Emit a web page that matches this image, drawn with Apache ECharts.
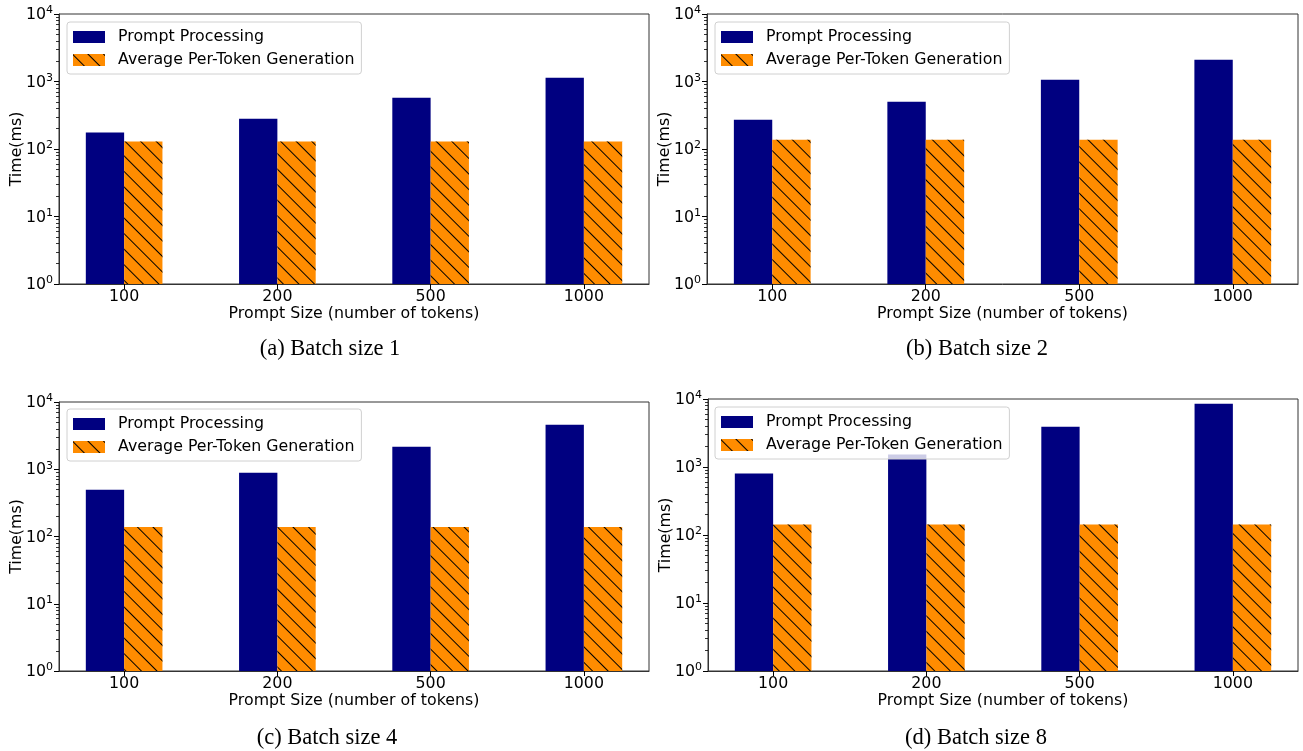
<!DOCTYPE html>
<html>
<head>
<meta charset="utf-8">
<script src="https://cdn.jsdelivr.net/npm/echarts@6/dist/echarts.min.js"></script>
<style>html,body{margin:0;padding:0;background:#fff;}#c{width:1303px;height:751px;}</style>
</head>
<body>
<div id="c"></div>
<script>
// ---- data ----
const categories = ['100', '200', '500', '1000'];
const seriesNames = ['Prompt Processing', 'Average Per-Token Generation'];
const captions = ['(a) Batch size 1', '(b) Batch size 2', '(c) Batch size 4', '(d) Batch size 8'];
const promptB1 = [176, 281, 575, 1138];
const genB1 = [129, 129, 129, 129];
const promptB2 = [271, 502, 1064, 2105];
const genB2 = [137, 137, 137, 137];
const promptB4 = [494, 884, 2154, 4580];
const genB4 = [139, 139, 139, 139];
const promptB8 = [800, 1521, 3920, 8530];
const genB8 = [143, 143, 143, 143];
const yTickValues = [1, 10, 100, 1000, 10000];
const yMinorTicks = [2,3,4,5,6,7,8,9,20,30,40,50,60,70,80,90,200,300,400,500,600,700,800,900,2000,3000,4000,5000,6000,7000,8000,9000];
const xLabel = 'Prompt Size (number of tokens)';
const yLabel = 'Time(ms)';

// ---- layout / style ----
const panels = [
  {left: 59, top: 14, width: 590, height: 270, legend: [67, 22], cap: [330, 338], prompt: promptB1, gen: genB1},
  {left: 707, top: 14, width: 591, height: 270, legend: [715, 22], cap: [977, 338], prompt: promptB2, gen: genB2},
  {left: 59, top: 402, width: 590, height: 269, legend: [67, 409], cap: [327, 727], prompt: promptB4, gen: genB4},
  {left: 708, top: 399, width: 590, height: 272, legend: [715, 407], cap: [976, 727], prompt: promptB8, gen: genB8}
];
const XMIN = -0.425, XMAX = 3.425, BARW = 0.25;
const FONT = 'DejaVu Sans';
const FS = 15.8;
const NAVY = '#000080', ORANGE = '#FF8C00', SPINE = '#333';
const hatch = {symbol: 'rect', symbolSize: 1, dashArrayX: [1, 0], dashArrayY: [0.9, 9.7], rotation: Math.PI / 4, color: '#000'};

const grid = [], xAxis = [], yAxis = [], series = [], legend = [], title = [];
panels.forEach((p, i) => {
  grid.push({left: p.left, top: p.top, width: p.width, height: p.height, show: true, borderColor: SPINE, borderWidth: 1, backgroundColor: 'transparent', containLabel: false});
  xAxis.push({
    type: 'value', gridIndex: i, min: XMIN, max: XMAX,
    name: xLabel, nameLocation: 'middle', nameGap: 22, nameMoveOverlap: false,
    nameTextStyle: {fontFamily: FONT, fontSize: FS, color: '#000'},
    axisLine: {show: true, onZero: false, lineStyle: {color: SPINE, width: 1}},
    axisTick: {show: true, inside: false, length: 5, customValues: [0, 1, 2, 3], lineStyle: {color: '#000'}},
    axisLabel: {show: true, margin: 5, customValues: [0, 1, 2, 3], formatter: v => categories[Math.round(v)], fontFamily: FONT, fontSize: FS, color: '#000'},
    splitLine: {show: false}
  });
  yAxis.push({
    type: 'log', logBase: 10, gridIndex: i, min: 1, max: 10000, position: 'left',
    name: yLabel, nameLocation: 'middle', nameGap: 34, nameMoveOverlap: false,
    nameTextStyle: {fontFamily: FONT, fontSize: FS, color: '#000'},
    axisLine: {show: true, onZero: false, lineStyle: {color: SPINE, width: 1}},
    axisTick: {show: true, length: 5, customValues: yTickValues, lineStyle: {color: '#000'}},
    axisLabel: {
      show: true, margin: 6, customValues: yTickValues,
      formatter: v => '{b|10}{s|' + Math.round(Math.log10(v)) + '}',
      rich: {
        b: {fontFamily: FONT, fontSize: FS, color: '#000', lineHeight: 18, verticalAlign: 'bottom'},
        s: {fontFamily: FONT, fontSize: 11, color: '#000', lineHeight: 11, verticalAlign: 'top'}
      }
    },
    splitLine: {show: false}
  });
  yAxis.push({
    type: 'log', logBase: 10, gridIndex: i, min: 1, max: 10000, position: 'left',
    axisLine: {show: false, onZero: false},
    axisTick: {show: true, length: 3, customValues: yMinorTicks, lineStyle: {color: '#000', width: 0.8}},
    axisLabel: {show: false},
    splitLine: {show: false}
  });
  const bw = BARW * p.width / (XMAX - XMIN);
  series.push({
    name: seriesNames[0], type: 'bar', xAxisIndex: i, yAxisIndex: 2 * i,
    data: p.prompt.map((v, k) => [k, v]), barWidth: bw, barGap: '0%',
    itemStyle: {color: NAVY}, emphasis: {disabled: true}, silent: true
  });
  series.push({
    name: seriesNames[1], type: 'bar', xAxisIndex: i, yAxisIndex: 2 * i,
    data: p.gen.map((v, k) => [k, v]), barWidth: bw, barGap: '0%',
    itemStyle: {color: ORANGE, decal: hatch}, emphasis: {disabled: true}, silent: true
  });
  legend.push({
    orient: 'vertical', left: p.legend[0], top: p.legend[1],
    data: seriesNames, itemWidth: 32, itemHeight: 12, itemGap: 7,
    padding: [7, 7, 6, 6], icon: 'rect',
    backgroundColor: 'rgba(255,255,255,0.8)', borderColor: '#d0d0d0', borderWidth: 1, borderRadius: 3,
    textStyle: {fontFamily: FONT, fontSize: FS, color: '#000', lineHeight: 16, padding: [0, 0, 0, 8]},
    selectedMode: false
  });
  title.push({
    text: captions[i], left: p.cap[0], top: p.cap[1], textAlign: 'center', padding: 0,
    textStyle: {fontFamily: 'Liberation Serif', fontSize: 22.5, fontWeight: 'normal', color: '#000'}
  });
});

const chart = echarts.init(document.getElementById('c'), null, {renderer: 'canvas'});
chart.setOption({
  animation: false, backgroundColor: '#fff',
  grid, xAxis, yAxis, series, legend, title
});
</script>
</body>
</html>
